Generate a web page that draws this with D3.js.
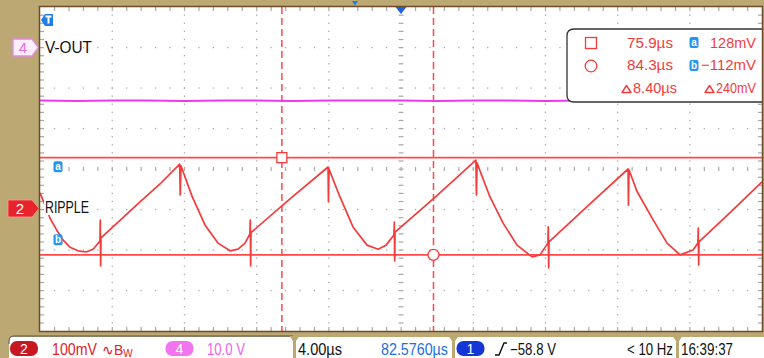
<!DOCTYPE html>
<html>
<head>
<meta charset="utf-8">
<script src="https://cdn.jsdelivr.net/npm/d3@7"></script>
<style>
  html, body { margin: 0; padding: 0; background: #fff; }
  svg { display: block; font-family: "Liberation Sans", Arial, sans-serif; }
</style>
</head>
<body>
<svg id="scope" width="764" height="358"></svg>
<script>
// ---- values ----
const timeRange = [62.5, 102.5];   // µs across 10 divisions (4 µs/div)
const ch2Range = [-300, 500];      // mV across 8 divisions (100 mV/div)
const ch4Range = [-70, 10];        // V across 8 divisions (10 V/div)

// RIPPLE trace (ch2): [µs, mV]
const ripple = [
  [62.50, 41], [62.78, 11], [63.05, -21], [63.39, -48], [63.77, -75], [64.16, -93], [64.61, -102], [65.05, -105], [65.44, -98], [65.82, -78],
  [65.84, -26], [65.86, -139], [65.88, -70],
  [68.04, 19], [69.15, 63], [70.24, 112],
  [70.27, 36], [70.31, 108],
  [70.92, 33], [71.64, -38], [72.36, -83], [73.03, -102], [73.47, -98], [73.86, -83], [74.13, -60],
  [74.15, -26], [74.17, -139], [74.19, -57],
  [76.35, 26], [78.46, 105],
  [78.48, 19], [78.51, 100],
  [79.12, 31], [79.84, -43], [80.62, -88], [81.23, -98], [81.67, -88], [82.11, -63],
  [82.13, -31], [82.15, -127], [82.17, -56],
  [84.38, 30], [86.65, 122],
  [86.68, 36], [86.71, 115],
  [87.43, 31], [88.15, -33], [88.93, -88], [89.76, -117], [90.20, -112], [90.64, -83],
  [90.66, -43], [90.68, -144], [90.70, -80],
  [92.97, 14], [95.08, 100],
  [95.10, 11], [95.13, 98],
  [95.57, 45], [96.46, -25], [97.24, -83], [97.96, -112], [98.68, -100], [98.95, -83],
  [98.97, -46], [98.99, -137], [99.01, -80],
  [100.73, -8], [102.50, 68]
];

// V-OUT trace (ch4): [µs, V]
const vout = [
  [62.5, -13.1], [64.5, -13.2], [66.5, -13.1], [68.5, -13.1], [70.5, -13.2], [72.5, -13.1], [74.5, -13.1],
  [76.5, -13.2], [78.5, -13.1], [80.5, -13.1], [82.5, -13.1], [84.5, -13.2], [86.5, -13.1], [88.5, -13.1],
  [90.5, -13.2], [92.5, -13.1], [94.5, -13.1], [96.5, -13.1], [98.5, -13.2], [100.5, -13.1], [102.5, -13.1]
];

const cursorTimes = [75.9, 84.3];    // µs
const cursorLevels = [128, -112];    // mV
const cursorTags = ['a', 'b'];
const readTimes = ['75.9µs', '84.3µs', '8.40µs'];
const readLevels = ['128mV', '−112mV', '240mV'];

// ---- layout ----
const W = 764, H = 358;
const P = { left: 40, top: 7, right: 762, bottom: 331 };
const TAN = '#bba872';
const RED = '#f43b3b';
const BLUE = '#2596ee';

const x = d3.scaleLinear().domain(timeRange).range([P.left, P.right]);
const y2 = d3.scaleLinear().domain(ch2Range).range([P.bottom, P.top]);
const y4 = d3.scaleLinear().domain(ch4Range).range([P.bottom, P.top]);
// division scales for the graticule
const xDiv = d3.scaleLinear().domain([0, 10]).range([P.left, P.right]);
const yDiv = d3.scaleLinear().domain([0, 8]).range([P.bottom, P.top]);

const svg = d3.select('#scope');

// frame
svg.append('rect').attr('width', W).attr('height', H).attr('fill', TAN);
svg.append('rect')
  .attr('x', P.left).attr('y', P.top)
  .attr('width', P.right - P.left).attr('height', P.bottom - P.top)
  .attr('fill', '#fff');

// ---- graticule ----
const grid = svg.append('g').attr('fill', '#a9a9a9');
const minorX = d3.range(1, 50).map(i => xDiv(i / 5));
const minorY = d3.range(1, 40).map(j => yDiv(j / 5));

d3.range(1, 10).forEach(k => {
  const gx = xDiv(k);
  if (k === 5) {
    grid.selectAll(null).data(minorY).join('rect')
      .attr('x', gx - 2.5).attr('y', d => d - 0.5).attr('width', 5).attr('height', 1.2);
  } else {
    grid.selectAll(null).data(minorY).join('rect')
      .attr('x', gx - 0.6).attr('y', d => d - 0.6).attr('width', 1.3).attr('height', 1.3);
  }
});
d3.range(1, 8).forEach(j => {
  const gy = yDiv(j);
  if (j === 4) {
    grid.selectAll(null).data(minorX).join('rect')
      .attr('x', d => d - 0.5).attr('y', gy - 2).attr('width', 1.2).attr('height', 4);
  } else {
    grid.selectAll(null).data(minorX).join('rect')
      .attr('x', d => d - 0.6).attr('y', gy - 0.6).attr('width', 1.3).attr('height', 1.3);
  }
});
// edge ticks
grid.selectAll(null).data(minorY).join('rect')
  .attr('x', P.left).attr('y', d => d - 0.5).attr('width', 4).attr('height', 1.2);
grid.selectAll(null).data(minorY).join('rect')
  .attr('x', P.right - 4).attr('y', d => d - 0.5).attr('width', 4).attr('height', 1.2);
grid.selectAll(null).data(minorX).join('rect')
  .attr('x', d => d - 0.5).attr('y', P.top).attr('width', 1.2).attr('height', 4);
grid.selectAll(null).data(minorX).join('rect')
  .attr('x', d => d - 0.5).attr('y', P.bottom - 4).attr('width', 1.2).attr('height', 4);

// ---- cursors ----
const cur = svg.append('g');
cur.selectAll('line.vc').data(cursorTimes).join('line')
  .attr('class', 'vc')
  .attr('x1', d => x(d)).attr('x2', d => x(d))
  .attr('y1', P.top).attr('y2', P.bottom)
  .attr('stroke', '#ff4848').attr('stroke-width', 1.5)
  .attr('stroke-dasharray', '7,4');
cur.selectAll('line.hc').data(cursorLevels).join('line')
  .attr('class', 'hc')
  .attr('x1', P.left).attr('x2', P.right)
  .attr('y1', d => y2(d)).attr('y2', d => y2(d))
  .attr('stroke', '#ff4848').attr('stroke-width', 1.6);

// ---- traces ----
const lineV = d3.line().x(d => x(d[0])).y(d => y4(d[1]));
svg.append('path').datum(vout)
  .attr('d', lineV).attr('fill', 'none')
  .attr('stroke', '#f038ea').attr('stroke-width', 2);

const lineR = d3.line().x(d => x(d[0])).y(d => y2(d[1]));
svg.append('path').datum(ripple)
  .attr('d', lineR).attr('fill', 'none')
  .attr('stroke', RED).attr('stroke-width', 1.7)
  .attr('stroke-linejoin', 'round');

// cursor intersection markers
svg.append('rect')
  .attr('x', x(cursorTimes[0]) - 5).attr('y', y2(cursorLevels[0]) - 5)
  .attr('width', 10).attr('height', 10)
  .attr('fill', '#fff').attr('stroke', RED).attr('stroke-width', 1.3);
svg.append('circle')
  .attr('cx', x(cursorTimes[1])).attr('cy', y2(cursorLevels[1])).attr('r', 5.5)
  .attr('fill', '#fff').attr('stroke', RED).attr('stroke-width', 1.3);

// small blue cursor tags
function tag(g, cx, cy, letter) {
  g.append('rect').attr('x', cx - 4.5).attr('y', cy - 5.5)
    .attr('width', 9).attr('height', 11).attr('rx', 2).attr('fill', BLUE);
  g.append('text').attr('x', cx).attr('y', cy + 3.5)
    .attr('text-anchor', 'middle').attr('font-size', 10).attr('font-weight', 'bold')
    .attr('fill', '#fff').text(letter);
}
cursorTags.forEach((t, i) => tag(svg, 58, y2(cursorLevels[i]) + (i === 0 ? 9 : -15), t));

// ---- channel labels & markers ----
function stretched(g, str, x0, x1, base, size, fill) {
  return g.append('text').attr('x', x0).attr('y', base)
    .attr('font-size', size).attr('fill', fill)
    .attr('textLength', x1 - x0).attr('lengthAdjust', 'spacingAndGlyphs')
    .text(str);
}
function delta(g, x0, base, fill) {
  g.append('path')
    .attr('d', `M${x0},${base - 0.5}H${x0 + 9}L${x0 + 4.5},${base - 7.5}Z`)
    .attr('fill', 'none').attr('stroke', fill).attr('stroke-width', 1.4)
    .attr('stroke-linejoin', 'round');
}
svg.append('rect').attr('x', 44).attr('y', 200).attr('width', 47).attr('height', 15).attr('fill', '#fff');
stretched(svg, 'V-OUT', 45, 92, 53, 17, '#111');
stretched(svg, 'RIPPLE', 45, 89, 213, 16, '#111');

// ch4 marker
svg.append('path').attr('d', 'M13,39H32L38.5,47.5L32,56H13Z')
  .attr('fill', '#fdeefd').attr('stroke', '#e08ae0').attr('stroke-width', 1.3);
svg.append('text').attr('x', 23).attr('y', 53).attr('text-anchor', 'middle')
  .attr('font-size', 15).attr('fill', '#e070e0').text('4');
// ch2 marker
svg.append('path').attr('d', 'M8,200H32L39,208.5L32,217H8Z')
  .attr('fill', '#e8232c').attr('stroke', '#f6a0a0').attr('stroke-width', 0.8);
svg.append('text').attr('x', 20).attr('y', 214).attr('text-anchor', 'middle')
  .attr('font-size', 15).attr('fill', '#fff').text('2');

// trigger level marker (top left) and trigger position markers
svg.append('path').attr('d', 'M53,14V26H45L41,20L45,14Z').attr('fill', '#1f7fe6');
svg.append('path').attr('d', 'M45.5,16.5H51.5M48.5,16.5V23.5')
  .attr('stroke', '#fff').attr('stroke-width', 2);
svg.append('path').attr('d', `M${xDiv(5) - 5.5},${P.top}H${xDiv(5) + 5.5}L${xDiv(5)},${P.top + 7}Z`)
  .attr('fill', '#1f5fe0');
svg.append('path').attr('d', 'M352,1H358L355,5.5Z').attr('fill', '#1f7fe6');

// ---- readout box ----
const box = svg.append('g');
box.append('path')
  .attr('d', `M${P.right},29H574Q567,29 567,36V95Q567,102 574,102H${P.right}`)
  .attr('fill', '#fff').attr('stroke', '#333').attr('stroke-width', 1.3);
box.append('rect').attr('x', 585.5).attr('y', 37.5).attr('width', 11).attr('height', 11)
  .attr('fill', 'none').attr('stroke', RED).attr('stroke-width', 1.3);
box.append('circle').attr('cx', 591).attr('cy', 66).attr('r', 5.8)
  .attr('fill', 'none').attr('stroke', RED).attr('stroke-width', 1.3);
const rowBase = [48, 70, 93];
stretched(box, readTimes[0], 627, 673, rowBase[0], 15, RED);
stretched(box, readTimes[1], 627, 673, rowBase[1], 15, RED);
delta(box, 622, rowBase[2], RED);
stretched(box, readTimes[2], 633, 677, rowBase[2], 15, RED);
stretched(box, readLevels[0], 710, 756, rowBase[0], 15, RED);
stretched(box, readLevels[1], 701, 756, rowBase[1], 15, RED);
delta(box, 705, rowBase[2], RED);
stretched(box, readLevels[2], 716, 756, rowBase[2], 14, RED);
tag(box, 694, 42.5, 'a');
tag(box, 694, 65.5, 'b');

// plot border
svg.append('rect')
  .attr('x', P.left - 0.5).attr('y', P.top - 0.5)
  .attr('width', P.right - P.left + 1).attr('height', P.bottom - P.top + 1)
  .attr('fill', 'none').attr('stroke', '#6e4b2a').attr('stroke-width', 1.5);

// ---- status bar ----
const bar = svg.append('g');
bar.append('path').attr('d', 'M9,358V341Q9,337 13,337H764V358Z').attr('fill', '#fff');
bar.append('path').attr('d', 'M9,344V341Q9,336 14,336H293')
  .attr('fill', 'none').attr('stroke', '#555').attr('stroke-width', 1);
[294.5, 453.5, 677.5].forEach(sx => {
  bar.append('path')
    .attr('d', `M${sx - 5},336H${sx + 5}L${sx + 1.5},341V358H${sx - 1.5}V341Z`)
    .attr('fill', TAN);
});
function pill(cx, fill, label) {
  bar.append('rect').attr('x', cx - 14).attr('y', 341).attr('width', 28).attr('height', 15)
    .attr('rx', 7).attr('fill', fill);
  bar.append('text').attr('x', cx).attr('y', 354).attr('text-anchor', 'middle')
    .attr('font-size', 14).attr('fill', '#fff').text(label);
}
pill(24, '#c91722', '2');
pill(179.5, '#f274f0', '4');
pill(470.5, '#1536d6', '1');

const statusBase = 354.5;
stretched(bar, '100mV', 52, 97, statusBase, 16, '#e0222b');
const bw = bar.append('text').attr('x', 102).attr('y', statusBase)
  .attr('font-size', 14).attr('fill', '#e0222b');
bw.append('tspan').text('∿B');
bw.append('tspan').attr('font-size', 10).attr('dy', 2).text('W');
stretched(bar, '10.0 V', 207, 245, statusBase, 16, '#f060ee');
stretched(bar, '4.00µs', 298, 342, statusBase, 16, '#111');
stretched(bar, '82.5760µs', 381, 448, statusBase, 16, '#1f6fe0');
bar.append('path').attr('d', 'M495,355H499L504,343H507')
  .attr('fill', 'none').attr('stroke', '#111').attr('stroke-width', 1.4);
stretched(bar, '−58.8 V', 510, 556, statusBase, 16, '#111');
stretched(bar, '< 10 Hz', 627, 673, statusBase, 16, '#111');
stretched(bar, '16:39:37', 681, 733, statusBase, 16, '#111');
</script>
</body>
</html>
